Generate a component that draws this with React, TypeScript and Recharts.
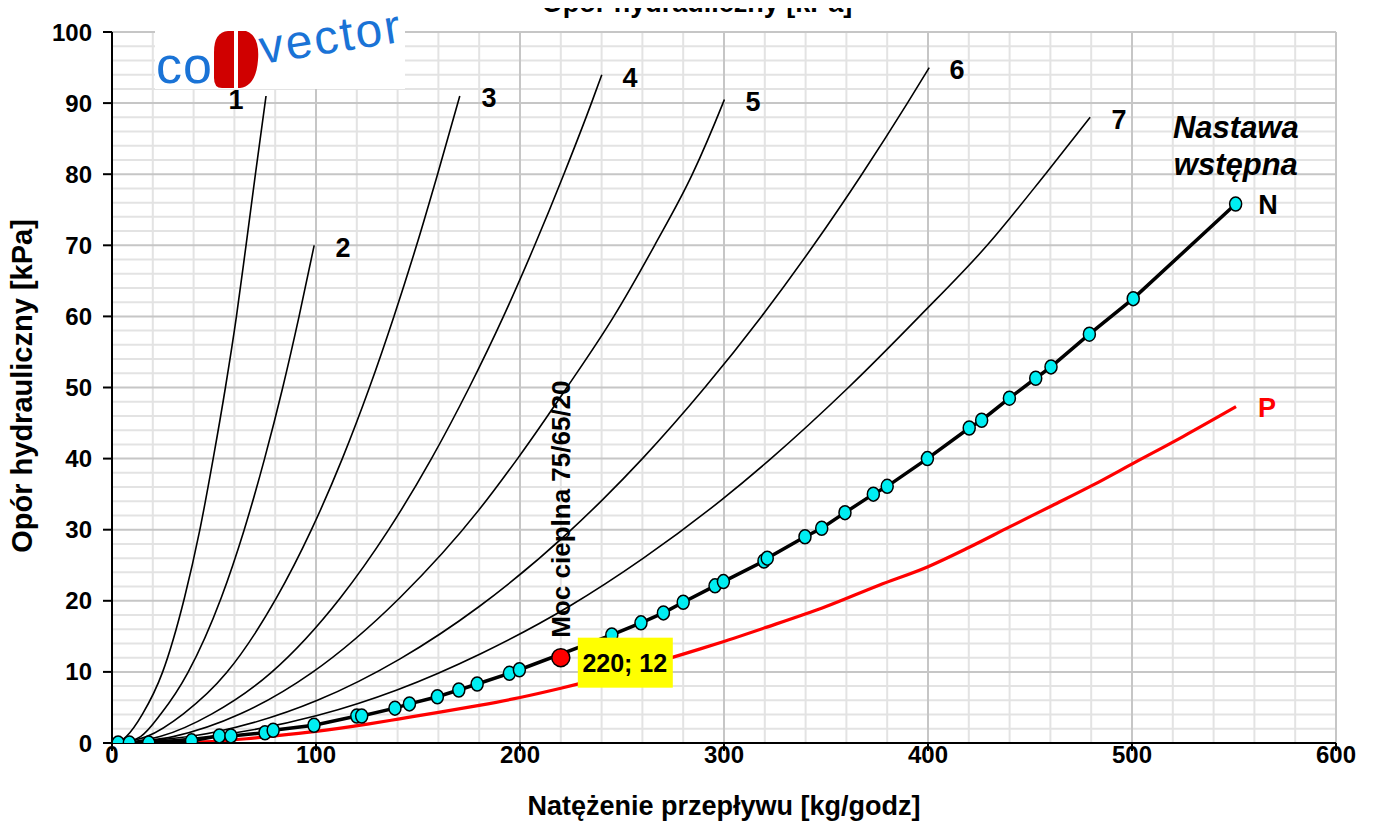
import React from 'react';
import { LineChart, Line, XAxis, YAxis, CartesianGrid, ReferenceDot } from 'recharts';

// Natężenie przepływu [kg/godz] -> opór [kPa]
const CURVE_1 = [[3, 0], [7, 0.9], [15, 4.1], [24.7, 9.9], [35.5, 20.4], [43, 29.9], [49.6, 40], [55.6, 50], [61, 60], [65.7, 70], [70.3, 80], [75.5, 91]];
const CURVE_2 = [[4, 0], [14, 0.9], [24, 4.1], [37.2, 9.9], [53.5, 20.4], [64.7, 29.9], [74.8, 40], [83.7, 50], [91.7, 60], [98.3, 68.9], [99.1, 70]];
const CURVE_3 = [[5, 0], [17, 0.9], [35, 4.1], [56.2, 9.9], [80.6, 20.4], [97.6, 29.9], [112.9, 40], [126.2, 50], [138.2, 60], [149.3, 70], [159.6, 80], [170.5, 91]];
const CURVE_4 = [[5, 0], [23.5, 0.9], [49, 4.1], [78, 9.9], [111.9, 20.4], [135.4, 29.9], [156.6, 40], [175.1, 50], [191.9, 60], [207.2, 70], [221.5, 80], [235, 90], [240.1, 94]];
const CURVE_5 = [[5, 0], [30, 0.9], [63, 4.1], [98, 9.9], [141, 20.4], [180.5, 33], [198.8, 40], [223, 50], [246, 60], [266, 70], [284.5, 80], [299.5, 90], [300.2, 90.5]];
const CURVE_6 = [[6, 0], [50, 1.5], [100.7, 6], [141, 11.8], [180, 19.2], [224, 29.7], [240.4, 34.2], [260, 40], [290.6, 50], [318.4, 60], [343.9, 70], [367.6, 80], [389.9, 90], [400.6, 95]];
const CURVE_7 = [[7, 0], [50, 1], [101, 3.9], [140, 7.5], [181, 12.6], [224, 19.2], [260.5, 26], [298.8, 34.2], [323, 40], [361, 50], [395.8, 60], [429, 70], [457.5, 80], [479.5, 88]];

// nastawa wstępna N (punkty pomiarowe)
const CURVE_N = [[3, 0], [8.5, 0], [18, 0], [39, 0.3], [52.6, 1.0], [58.3, 1.0], [75, 1.45], [79, 1.8], [99, 2.5], [120, 3.8], [122.4, 3.8],
  [138.7, 4.9], [145.8, 5.5], [159.5, 6.5], [170, 7.45], [179, 8.3], [194.8, 9.8], [199.7, 10.3], [245, 15.2], [259.3, 16.9], [270.3, 18.3],
  [280, 19.8], [295.6, 22.1], [299.7, 22.7], [319.6, 25.6], [321.2, 26], [339.7, 29], [347.9, 30.2], [359.3, 32.4], [373.2, 35], [380, 36.1],
  [399.7, 40], [420.2, 44.3], [426.3, 45.4], [439.9, 48.5], [452.8, 51.3], [460.3, 52.9], [479.1, 57.5], [500.6, 62.5], [550.8, 75.8]];

// P
const CURVE_P = [[25, 0], [45, 0.15], [66, 0.6], [80, 1.0], [99, 1.6], [126, 2.7], [141, 3.4], [160, 4.3], [180, 5.3], [200, 6.4], [220, 7.7],
  [234, 8.7], [260, 10.8], [288, 13.2], [298, 14.1], [320, 16.2], [350, 19.2], [376, 22.2], [400, 24.8], [420, 27.5], [440, 30.4], [461, 33.4],
  [481, 36.3], [501, 39.4], [525, 43.1], [551, 47.3]];

const DESIGN_POINT = { q: 220, p: 12 };

const X_TICKS = [0, 100, 200, 300, 400, 500, 600];
const Y_TICKS = [0, 10, 20, 30, 40, 50, 60, 70, 80, 90, 100];
const X_MINOR = [20, 40, 60, 80, 120, 140, 160, 180, 220, 240, 260, 280, 320, 340, 360, 380, 420, 440, 460, 480, 520, 540, 560, 580];
const Y_MINOR = [2, 4, 6, 8, 12, 14, 16, 18, 22, 24, 26, 28, 32, 34, 36, 38, 42, 44, 46, 48, 52, 54, 56, 58, 62, 64, 66, 68, 72, 74, 76, 78, 82, 84, 86, 88, 92, 94, 96, 98];

const CURVE_LABELS = [
  { text: '1', q: 60.8, p: 90.4 },
  { text: '2', q: 113.2, p: 69.6 },
  { text: '3', q: 184.8, p: 90.7 },
  { text: '4', q: 253.9, p: 93.5 },
  { text: '5', q: 314.2, p: 90.2 },
  { text: '6', q: 414.2, p: 94.7 },
  { text: '7', q: 493.6, p: 87.6 },
  { text: 'N', q: 566.7, p: 75.7 },
];

const FONT = '"Liberation Sans", Arial, sans-serif';
const X_MAX = 600;
const Y_MAX = 100;

const toPts = (arr: number[][]) => arr.map(([q, p]) => ({ q, p }));

// linie siatki liczone z obszaru wykresu podanego przez recharts
const vertGen = (vals: number[]) => (props: any) => {
  const { offset } = props;
  return vals.map(v => offset.left + (offset.width * v) / X_MAX);
};
const horzGen = (vals: number[]) => (props: any) => {
  const { offset } = props;
  return vals.map(v => offset.top + offset.height * (1 - v / Y_MAX));
};

const XTick = ({ x, y, payload }: any) => (
  <text x={x} y={y + 1} textAnchor="middle" dominantBaseline="central" fontFamily={FONT} fontWeight="bold" fontSize={24} fill="#000">
    {payload.value}
  </text>
);
const YTick = ({ x, y, payload }: any) => (
  <text x={x - 9} y={y} textAnchor="end" dominantBaseline="central" fontFamily={FONT} fontWeight="bold" fontSize={24} fill="#000">
    {payload.value}
  </text>
);

const CyanDot = (props: any) => {
  const { cx, cy, index } = props;
  return <ellipse key={`n-${index}`} cx={cx} cy={cy} rx={6} ry={7} fill="#00eef2" stroke="#000" strokeWidth={1.5} />;
};

const textShape = (text: string, opts: any = {}) => (props: any) => (
  <text x={props.cx} y={props.cy} textAnchor="middle" dominantBaseline="central" fontFamily={FONT}
    fontWeight="bold" fontSize={opts.size || 27} fontStyle={opts.italic ? 'italic' : 'normal'} fill={opts.color || '#000'}>
    {text}
  </text>
);

const DesignDot = (props: any) => (
  <g>
    <circle cx={props.cx} cy={props.cy} r={9} fill="#ff0000" stroke="#000" strokeWidth={1.5} />
    <rect x={props.cx + 17} y={props.cy - 20} width={95} height={50} fill="#ffff00" />
    <text x={props.cx + 64} y={props.cy + 5} textAnchor="middle" dominantBaseline="central" fontFamily={FONT} fontWeight="bold" fontSize={25} fill="#000">
      {`${DESIGN_POINT.q}; ${DESIGN_POINT.p}`}
    </text>
  </g>
);

const RotatedText = (props: any) => (
  <text x={props.cx} y={props.cy} transform={`rotate(-90 ${props.cx} ${props.cy})`} textAnchor="middle" dominantBaseline="central"
    fontFamily={FONT} fontWeight="bold" fontSize={26} fill="#000">
    Moc cieplna 75/65/20
  </text>
);

export default function App() {
  const curves = [CURVE_1, CURVE_2, CURVE_3, CURVE_4, CURVE_5, CURVE_6, CURVE_7];
  return (
    <div style={{ position: 'relative', width: 1377, height: 836, marginLeft: -8, marginTop: -8, background: '#fff' }}>
      <LineChart width={1377} height={836} margin={{ top: 32, right: 41, bottom: 0, left: 0 }}>
        {/* siatka pomocnicza + główna */}
        <CartesianGrid stroke="#e3e3e3" strokeWidth={2} verticalCoordinatesGenerator={vertGen(X_MINOR)} horizontalCoordinatesGenerator={horzGen(Y_MINOR)} />
        <CartesianGrid stroke="#c6c6c6" strokeWidth={2} verticalCoordinatesGenerator={vertGen(X_TICKS.slice(1))} horizontalCoordinatesGenerator={horzGen(Y_TICKS.slice(1))} />
        <XAxis type="number" dataKey="q" domain={[0, X_MAX]} ticks={X_TICKS} height={93} tickSize={8}
          axisLine={{ stroke: '#000', strokeWidth: 2 }} tickLine={{ stroke: '#000', strokeWidth: 2 }} tick={<XTick />} allowDataOverflow />
        <YAxis type="number" dataKey="p" domain={[0, Y_MAX]} ticks={Y_TICKS} width={112} tickSize={9}
          axisLine={{ stroke: '#000', strokeWidth: 2 }} tickLine={{ stroke: '#000', strokeWidth: 2 }} tick={<YTick />} allowDataOverflow />
        {curves.map((c, i) => (
          <Line key={i} data={toPts(c)} dataKey="p" type="monotone" stroke="#000" strokeWidth={1.6} dot={false} isAnimationActive={false} />
        ))}
        <Line data={toPts(CURVE_P)} dataKey="p" type="monotone" stroke="#ff0000" strokeWidth={3.2} dot={false} isAnimationActive={false} />
        <Line data={toPts(CURVE_N)} dataKey="p" type="linear" stroke="#000" strokeWidth={3.5} dot={<CyanDot />} isAnimationActive={false} />
        <ReferenceDot x={DESIGN_POINT.q} y={32.9} r={0} shape={RotatedText} />
        <ReferenceDot x={DESIGN_POINT.q} y={DESIGN_POINT.p} r={9} shape={DesignDot} />
        {CURVE_LABELS.map(l => (
          <ReferenceDot key={l.text} x={l.q} y={l.p} r={0} shape={textShape(l.text)} />
        ))}
        <ReferenceDot x={566.2} y={47.1} r={0} shape={textShape('P', { color: '#ff0000' })} />
        <ReferenceDot x={550.9} y={86.6} r={0} shape={textShape('Nastawa', { italic: true, size: 31 })} />
        <ReferenceDot x={550.9} y={81.3} r={0} shape={textShape('wstępna', { italic: true, size: 31 })} />
      </LineChart>
      <svg width={1377} height={836} style={{ position: 'absolute', left: 0, top: 0, pointerEvents: 'none' }}>
        <text x={697} y={12} textAnchor="middle" fontFamily={FONT} fontWeight="bold" fontSize={27}>Opór hydrauliczny [kPa]</text>
        <line x1={1108} y1={1.5} x2={1377} y2={1.5} stroke="#000" strokeWidth={2} />
        <text x={724} y={806} textAnchor="middle" dominantBaseline="central" fontFamily={FONT} fontWeight="bold" fontSize={27}>
          Natężenie przepływu [kg/godz]
        </text>
        <text x={22} y={386} textAnchor="middle" dominantBaseline="central" transform="rotate(-90 22 386)" fontFamily={FONT} fontWeight="bold" fontSize={29}>
          Opór hydrauliczny [kPa]
        </text>
        {/* logo */}
        <rect x={155} y={31} width={250} height={58} fill="#fff" />
        <text x={156} y={83} fontFamily={FONT} fontSize={52} fill="#1a73d6" textLength={56}>co</text>
        <path d="M214 52 Q214 32 228 31 L234 31 L234 88 L222 88 Q214 88 214 78 Z" fill="#d00000" />
        <path d="M238 31 L246 31 Q260 36 258 60 Q256 86 240 88 L238 88 Z" fill="#d00000" />
        <text x={262} y={64} fontFamily={FONT} fontSize={48} fill="#1a73d6" textLength={142} transform="rotate(-9 262 64)">vector</text>
      </svg>
    </div>
  );
}
